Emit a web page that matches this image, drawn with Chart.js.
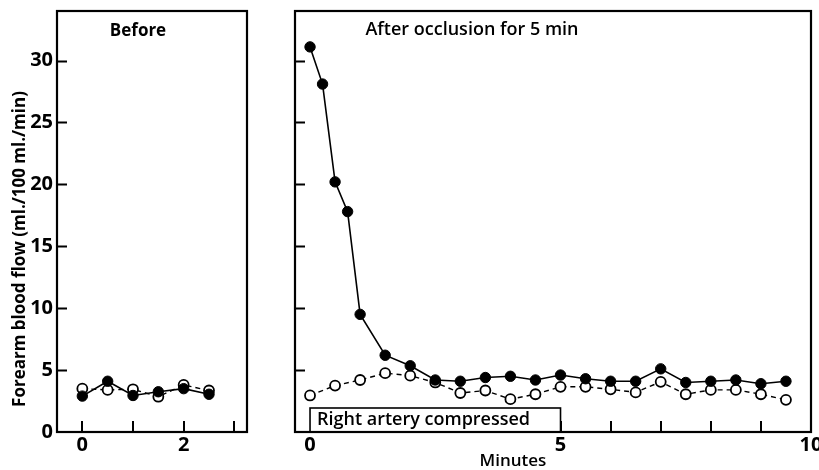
<!DOCTYPE html>
<html>
<head>
<meta charset="utf-8">
<script src="https://cdn.jsdelivr.net/npm/chart.js@4/dist/chart.umd.min.js"></script>
<style>
  body { margin: 0; background: #fff; }
  #wrap { position: relative; width: 819px; height: 470px; }
  canvas { position: absolute; top: 0; }
  #before { left: 0; }
  #after { left: 260px; }
</style>
</head>
<body>
<div id="wrap">
  <canvas id="before" width="255" height="470"></canvas>
  <canvas id="after" width="559" height="470"></canvas>
</div>
<script>
// before occlusion (minutes, ml./100 ml./min)
const beforeTime = [0, 0.5, 1, 1.5, 2, 2.5];
const beforeLeft = [2.9, 4.1, 2.95, 3.25, 3.5, 3.05];   // filled circles
const beforeRight = [3.5, 3.4, 3.45, 2.85, 3.8, 3.35];  // open circles

// after occlusion for 5 min
const afterLeftTime = [0, 0.25, 0.5, 0.75, 1, 1.5, 2, 2.5, 3, 3.5, 4, 4.5, 5, 5.5, 6, 6.5, 7, 7.5, 8, 8.5, 9, 9.5];
const afterLeft = [31.1, 28.1, 20.2, 17.8, 9.5, 6.2, 5.35, 4.2, 4.1, 4.4, 4.5, 4.2, 4.6, 4.3, 4.1, 4.1, 5.1, 4.0, 4.1, 4.2, 3.9, 4.1];
const afterRightTime = [0, 0.5, 1, 1.5, 2, 2.5, 3, 3.5, 4, 4.5, 5, 5.5, 6, 6.5, 7, 7.5, 8, 8.5, 9, 9.5];
const afterRight = [2.95, 3.75, 4.2, 4.75, 4.55, 4.0, 3.15, 3.35, 2.65, 3.05, 3.65, 3.65, 3.45, 3.2, 4.05, 3.05, 3.4, 3.4, 3.05, 2.6];

// compression period (minutes)
const compressStart = 0;
const compressEnd = 5;

// ticks
const yTicks = [0, 5, 10, 15, 20, 25, 30];
const yMarks = [5, 10, 15, 20, 25, 30];
const beforeXLabels = [0, 2];
const beforeXMarks = [0, 1, 2, 3];
const afterXLabels = [0, 5, 10];
const afterXMarks = [1, 2, 3, 4, 5, 6, 7, 8, 9];

const FONT = "'Open Sans', 'DejaVu Sans', sans-serif";

function pairs(xs, ys) {
  return xs.map((x, i) => ({x: x, y: ys[i]}));
}

function filledSet(data) {
  return {
    data: data,
    borderColor: '#000',
    backgroundColor: '#000',
    borderWidth: 1.6,
    pointRadius: 5.2,
    pointBackgroundColor: '#000',
    pointBorderColor: '#000',
    pointBorderWidth: 1,
    tension: 0,
  };
}

function openSet(data) {
  return {
    data: data,
    borderColor: '#000',
    borderWidth: 1.4,
    borderDash: [5, 4],
    pointRadius: 5,
    pointBackgroundColor: '#fff',
    pointBorderColor: '#000',
    pointBorderWidth: 1.8,
    tension: 0,
  };
}

// frame + inner tick marks + texts
function framePlugin(xMarks, texts, extra) {
  return {
    id: 'frame',
    beforeDatasetsDraw(chart) {
      const {ctx, chartArea: a, scales: {x, y}} = chart;
      ctx.save();
      ctx.strokeStyle = '#000';
      ctx.lineWidth = 2;
      ctx.beginPath();
      for (const v of yMarks) {
        const py = Math.round(y.getPixelForValue(v)) + 0.5;
        ctx.moveTo(a.left, py);
        ctx.lineTo(a.left + 10, py);
      }
      for (const v of xMarks) {
        const px = Math.round(x.getPixelForValue(v));
        ctx.moveTo(px, a.bottom);
        ctx.lineTo(px, a.bottom - 11);
      }
      ctx.stroke();
      if (extra) extra(chart);
      ctx.restore();
    },
    afterDraw(chart) {
      const {ctx, chartArea: a} = chart;
      ctx.save();
      ctx.strokeStyle = '#000';
      ctx.lineWidth = 2.2;
      ctx.strokeRect(a.left, a.top, a.right - a.left, a.bottom - a.top);
      ctx.fillStyle = '#000';
      for (const t of texts) {
        ctx.font = t.font;
        ctx.textAlign = 'center';
        ctx.textBaseline = 'middle';
        ctx.translate(t.x, t.y);
        ctx.rotate(t.rot || 0);
        ctx.fillText(t.text, 0, 0);
        ctx.setTransform(1, 0, 0, 1, 0, 0);
      }
      ctx.restore();
    }
  };
}

function xScale(min, max, labels) {
  return {
    type: 'linear',
    min: min,
    max: max,
    afterBuildTicks(s) { s.ticks = labels.map(v => ({value: v})); },
    afterFit(s) { s.height = 38; s.paddingLeft = 0; s.paddingRight = 0; },
    grid: { display: false },
    border: { display: false },
    ticks: {
      autoSkip: false,
      maxRotation: 0,
      padding: -7,
      color: '#000',
      font: { family: FONT, size: 20, weight: 'bold' },
    },
  };
}

const common = {
  responsive: false,
  animation: false,
  events: [],
  plugins: { legend: { display: false }, tooltip: { enabled: false } },
};

new Chart(document.getElementById('before'), {
  type: 'line',
  data: {
    datasets: [filledSet(pairs(beforeTime, beforeLeft)), openSet(pairs(beforeTime, beforeRight))]
  },
  options: Object.assign({}, common, {
    layout: { padding: { top: 11, right: 8, left: 0, bottom: 0 } },
    scales: {
      x: xScale(-0.5, 3.25, beforeXLabels),
      y: {
        type: 'linear',
        min: 0,
        max: 34,
        afterBuildTicks(s) { s.ticks = yTicks.map(v => ({value: v})); },
        afterFit(s) { s.width = 57; s.paddingTop = 0; s.paddingBottom = 0; },
        grid: { display: false },
        border: { display: false },
        ticks: {
          padding: -4,
          color: '#000',
          font: { family: FONT, size: 20, weight: 'bold' },
        },
      },
    },
  }),
  plugins: [framePlugin(beforeXMarks, [
    { text: 'Before', x: 138, y: 31, font: `bold 17px ${FONT}` },
    { text: 'Forearm blood flow (ml./100 ml./min)', x: 20, y: 249, rot: -Math.PI / 2, font: `bold 17px ${FONT}` },
  ])],
});

new Chart(document.getElementById('after'), {
  type: 'line',
  data: {
    datasets: [filledSet(pairs(afterLeftTime, afterLeft)), openSet(pairs(afterRightTime, afterRight))]
  },
  options: Object.assign({}, common, {
    layout: { padding: { top: 11, right: 8, left: 35, bottom: 0 } },
    scales: {
      x: xScale(-0.3, 10, afterXLabels),
      y: { type: 'linear', min: 0, max: 34, display: false },
    },
  }),
  plugins: [framePlugin(afterXMarks, [
    { text: 'After occlusion for 5 min', x: 212, y: 30, font: `600 18px ${FONT}` },
    { text: 'Minutes', x: 253, y: 461, font: `600 17px ${FONT}` },
  ], function (chart) {
    // box marking the period of compression
    const {ctx, chartArea: a, scales: {x}} = chart;
    const x0 = x.getPixelForValue(compressStart);
    const x1 = x.getPixelForValue(compressEnd);
    const top = a.bottom - 24;
    ctx.fillStyle = '#fff';
    ctx.fillRect(x0, top, x1 - x0, a.bottom - top);
    ctx.lineWidth = 1.6;
    ctx.strokeRect(x0, top, x1 - x0, a.bottom - top);
    ctx.fillStyle = '#000';
    ctx.font = `600 18px ${FONT}`;
    ctx.textAlign = 'left';
    ctx.textBaseline = 'middle';
    ctx.fillText('Right artery compressed', x0 + 7, top + 12);
  })],
});
</script>
</body>
</html>
